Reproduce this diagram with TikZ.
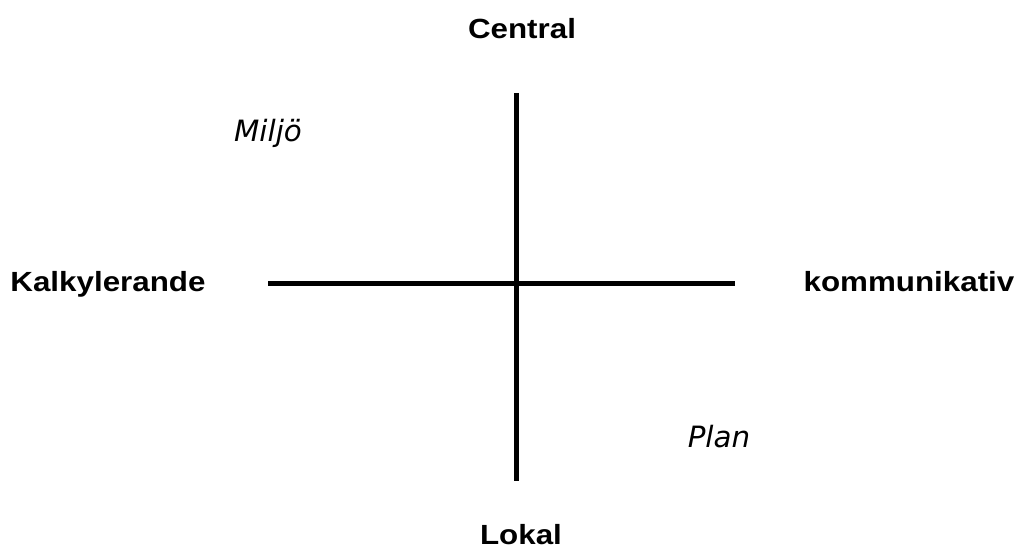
\documentclass[tikz,border=0pt]{standalone}
\usepackage{fontspec}
\usepackage{graphicx}
\setmainfont{Liberation Sans}
\newfontfamily\obliquefont{DejaVu Sans}
\begin{document}
\begin{tikzpicture}[x=0.75pt,y=-0.75pt,
  axis/.style={line width=3.75pt, line cap=butt},
  pole/.style={anchor=base, inner sep=0pt, font=\fontsize{20.8pt}{24pt}\selectfont\bfseries},
  tag/.style={anchor=base, inner sep=0pt, font=\fontsize{22pt}{26pt}\selectfont\obliquefont\itshape}]
\useasboundingbox (0,0) rectangle (1019,549);
\fill[white] (0,0) rectangle (1019,549);
\coordinate (top) at (516,93);
\coordinate (bottom) at (516,481);
\coordinate (left) at (268,283);
\coordinate (right) at (735,283);
\draw[axis] (top) -- (bottom);
\draw[axis] (left) -- (right);
\node[pole] (central) at (522,39) {\scalebox{1.13}[1]{Central}};
\node[pole] (lokal) at (521,544) {\scalebox{1.13}[1]{Lokal}};
\node[pole] (kalk) at (108,291) {\scalebox{1.13}[1]{Kalkylerande}};
\node[pole] (komm) at (909,291) {\scalebox{1.13}[1]{kommunikativ}};
\node[tag] (miljo) at (268,142) {Miljö};
\node[tag] (plan) at (719,447) {Plan};
\end{tikzpicture}
\end{document}
